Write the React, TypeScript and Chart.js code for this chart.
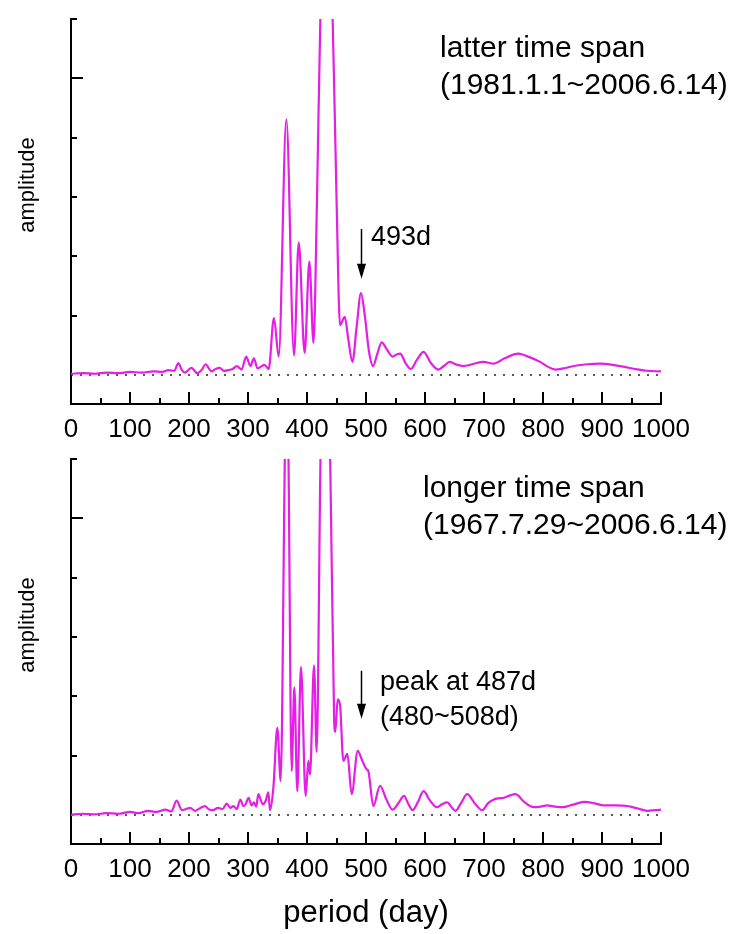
import React, { useEffect, useRef } from 'react';
import { Chart, registerables } from 'chart.js';

Chart.register(...registerables);

const FONT = '"Liberation Sans", Arial, Helvetica, sans-serif';

// x axis ticks (period, days)
const xTickValues = [0, 100, 200, 300, 400, 500, 600, 700, 800, 900, 1000];
const xTickLabels = ['0', '100', '200', '300', '400', '500', '600', '700', '800', '900', '1000'];
const yTickValues = [1, 2, 3, 4, 5, 6];

// latter time span spectrum
const latterPeriods = [0, 20, 40, 60, 80, 100, 120, 140, 155, 165, 175, 182, 188, 193, 204, 214, 222, 228, 238, 245, 252, 259, 266, 274, 281, 289, 297, 304, 310, 316, 322, 328, 335, 344, 352, 365, 378, 386, 396, 404, 411, 417, 423, 433, 443, 450, 456, 464, 470, 477, 484, 491.5, 498, 505, 512, 519, 526.6, 536, 545, 551, 558, 567, 576, 586, 597.6, 610, 622.6, 632, 642, 652, 665, 680, 699, 716, 735, 758, 777, 795, 808, 821, 835, 852, 875, 897, 918, 936, 956, 976, 1000];
const latterAmps = [0.02, 0.03, 0.02, 0.04, 0.03, 0.05, 0.04, 0.06, 0.05, 0.08, 0.07, 0.2, 0.08, 0.04, 0.12, 0.03, 0.09, 0.18, 0.06, 0.1, 0.12, 0.07, 0.08, 0.1, 0.15, 0.09, 0.31, 0.15, 0.28, 0.11, 0.14, 0.17, 0.1, 0.96, 0.31, 4.31, 0.33, 2.23, 0.37, 1.91, 0.54, 3.0, 6.2, 8.0, 6.2, 3.0, 0.84, 0.98, 0.6, 0.22, 0.8, 1.38, 1.0, 0.4, 0.15, 0.35, 0.55, 0.42, 0.31, 0.34, 0.36, 0.2, 0.1, 0.25, 0.39, 0.2, 0.09, 0.15, 0.22, 0.18, 0.15, 0.18, 0.22, 0.19, 0.28, 0.36, 0.3, 0.22, 0.14, 0.09, 0.11, 0.15, 0.18, 0.19, 0.17, 0.14, 0.1, 0.07, 0.06];

// longer time span spectrum
const longerPeriods = [0, 20, 40, 60, 80, 100, 115, 130, 145, 160, 170, 179, 188, 195, 202, 210, 218, 227, 234, 241, 249, 257, 264, 270, 275, 281, 287, 292, 296, 301, 306, 310, 314, 317.5, 325, 330, 334.5, 337.3, 343, 349.7, 355.4, 362.7, 365.5, 368.4, 374, 378.5, 383.6, 389.8, 397.7, 402.3, 405.1, 411.9, 416.4, 423.2, 431, 439, 446, 448, 452, 456, 461.6, 468.4, 475.7, 486, 492.7, 501, 504, 512.4, 523.7, 535, 545, 555, 564.4, 572, 579, 588, 597.6, 608, 620, 629, 637.6, 645, 651.7, 661, 671.5, 684, 697, 707, 716.8, 725, 733.8, 744, 753.5, 768, 784.6, 796, 807, 820, 832.6, 850, 869.3, 886, 903, 922, 942.9, 960, 976.8, 990, 1000];
const longerAmps = [0.0, 0.02, 0.01, 0.03, 0.02, 0.05, 0.03, 0.07, 0.05, 0.09, 0.06, 0.24, 0.08, 0.1, 0.12, 0.07, 0.11, 0.15, 0.09, 0.08, 0.12, 0.1, 0.19, 0.12, 0.15, 0.1, 0.26, 0.15, 0.18, 0.29, 0.16, 0.21, 0.14, 0.35, 0.18, 0.24, 0.38, 0.08, 0.46, 1.47, 0.57, 6.2, 7.5, 6.2, 0.74, 2.15, 0.4, 2.49, 0.32, 0.91, 0.68, 2.52, 1.06, 6.2, 8.0, 6.2, 1.6, 1.4, 1.95, 1.85, 0.91, 1.03, 0.35, 1.08, 0.94, 0.77, 0.74, 0.15, 0.49, 0.25, 0.09, 0.2, 0.32, 0.18, 0.08, 0.22, 0.4, 0.25, 0.13, 0.18, 0.21, 0.13, 0.07, 0.2, 0.35, 0.2, 0.08, 0.2, 0.26, 0.28, 0.29, 0.33, 0.35, 0.22, 0.13, 0.14, 0.16, 0.14, 0.13, 0.17, 0.22, 0.2, 0.16, 0.16, 0.15, 0.11, 0.07, 0.08, 0.09];

const latterTitle = ['latter time span', '(1981.1.1~2006.6.14)'];
const longerTitle = ['longer time span', '(1967.7.29~2006.6.14)'];
const latterNote = ['493d'];
const longerNote = ['peak at 487d', '(480~508d)'];
const latterArrow = [492, 2.46, 1.62]; // period, from amplitude, to amplitude
const longerArrow = [492, 2.43, 1.62];
const zeroLine = [0, 1000];

type PanelProps = {
  periods: number[];
  amps: number[];
  title: string[];
  titleX: number;
  note: string[];
  noteX: number;
  noteY: number[];
  arrow: number[];
  height: number;
  top: number;
  xTitle: boolean;
};

function Panel(p: PanelProps) {
  const ref = useRef<HTMLCanvasElement | null>(null);
  useEffect(() => {
    if (!ref.current) return;
    const decor = {
      id: 'decor',
      afterDraw(chart: any) {
        const ctx = chart.ctx;
        const { left, top, bottom } = chart.chartArea;
        const xs = chart.scales.x;
        const ys = chart.scales.y;
        ctx.save();
        ctx.strokeStyle = '#000';
        ctx.lineWidth = 2;
        ctx.beginPath();
        xs.ticks.forEach((t: any) => {
          const px = Math.round(xs.getPixelForValue(t.value));
          const len = t.value % 100 === 0 ? 12 : 6;
          ctx.moveTo(px, bottom);
          ctx.lineTo(px, bottom - len);
        });
        yTickValues.forEach((v) => {
          const py = Math.round(ys.getPixelForValue(v));
          const len = v % 5 === 0 ? 12 : 6;
          ctx.moveTo(left, py);
          ctx.lineTo(left + len, py);
        });
        ctx.stroke();

        // arrow
        const ax = Math.round(xs.getPixelForValue(p.arrow[0])) + 0.5;
        const ay1 = ys.getPixelForValue(p.arrow[1]);
        const ay2 = ys.getPixelForValue(p.arrow[2]);
        ctx.lineWidth = 1.5;
        ctx.beginPath();
        ctx.moveTo(ax, ay1);
        ctx.lineTo(ax, ay2 - 10);
        ctx.stroke();
        ctx.fillStyle = '#000';
        ctx.beginPath();
        ctx.moveTo(ax - 4.5, ay2 - 15);
        ctx.lineTo(ax + 4.5, ay2 - 15);
        ctx.lineTo(ax, ay2);
        ctx.closePath();
        ctx.fill();

        // texts
        ctx.textAlign = 'left';
        ctx.textBaseline = 'alphabetic';
        ctx.font = `30px ${FONT}`;
        ctx.fillText(p.title[0], p.titleX, 57);
        ctx.fillText(p.title[1], p.titleX, 94);
        ctx.font = `27px ${FONT}`;
        p.note.forEach((s, i) => ctx.fillText(s, p.noteX, p.noteY[i]));

        // y axis title
        ctx.save();
        ctx.translate(28, top + 166);
        ctx.rotate(-Math.PI / 2);
        ctx.textAlign = 'center';
        ctx.textBaseline = 'middle';
        ctx.font = `22px ${FONT}`;
        ctx.fillText('amplitude', 0, 0);
        ctx.restore();
        ctx.restore();
      },
    };

    const chart = new Chart(ref.current, {
      type: 'line',
      data: {
        datasets: [
          {
            data: p.periods.map((x, i) => ({ x, y: p.amps[i] })),
            borderColor: '#e41ee4',
            borderWidth: 2.2,
            pointRadius: 0,
            cubicInterpolationMode: 'monotone',
            fill: false,
            order: 0,
          },
          {
            data: zeroLine.map((x) => ({ x, y: 0 })),
            borderColor: '#222',
            borderWidth: 1.6,
            borderDash: [2, 7],
            pointRadius: 0,
            fill: false,
            order: 1,
          },
        ],
      },
      options: {
        animation: false,
        responsive: false,
        maintainAspectRatio: false,
        events: [],
        layout: { padding: { top: 19, right: 70, left: 0, bottom: 0 } },
        plugins: { legend: { display: false }, tooltip: { enabled: false }, title: { display: false } },
        scales: {
          x: {
            type: 'linear',
            min: 0,
            max: 1000,
            grid: { display: false, drawTicks: false },
            border: { display: true, color: '#000', width: 2 },
            ticks: {
              stepSize: 50,
              autoSkip: false,
              maxRotation: 0,
              padding: 10,
              color: '#000',
              font: { family: FONT, size: 26 },
              callback: (v: any) => {
                const i = xTickValues.indexOf(Number(v));
                return i >= 0 ? xTickLabels[i] : '';
              },
            },
            title: p.xTitle
              ? { display: true, text: 'period (day)', color: '#000', font: { family: FONT, size: 31 }, padding: { top: 0, bottom: 2 } }
              : { display: false },
            afterFit: (s: any) => {
              s.height = p.height - 404;
            },
          },
          y: {
            type: 'linear',
            min: -0.49,
            max: 6,
            grid: { display: false, drawTicks: false },
            border: { display: true, color: '#000', width: 2 },
            ticks: { display: false, stepSize: 1 },
            afterFit: (s: any) => {
              s.width = 71;
            },
          },
        },
      } as any,
      plugins: [decor],
    });
    return () => chart.destroy();
  }, []);
  return (
    <canvas
      ref={ref}
      width={731}
      height={p.height}
      style={{ position: 'absolute', left: 0, top: p.top, width: 731, height: p.height }}
    />
  );
}

export default function App() {
  return (
    <div style={{ position: 'absolute', left: 0, top: 0, width: 731, height: 934, background: '#fff', overflow: 'hidden' }}>
      <Panel
        periods={latterPeriods}
        amps={latterAmps}
        title={latterTitle}
        titleX={440}
        note={latterNote}
        noteX={371}
        noteY={[245]}
        arrow={latterArrow}
        height={440}
        top={0}
        xTitle={false}
      />
      <Panel
        periods={longerPeriods}
        amps={longerAmps}
        title={longerTitle}
        titleX={423}
        note={longerNote}
        noteX={380}
        noteY={[250, 285]}
        arrow={longerArrow}
        height={494}
        top={440}
        xTitle={true}
      />
    </div>
  );
}
